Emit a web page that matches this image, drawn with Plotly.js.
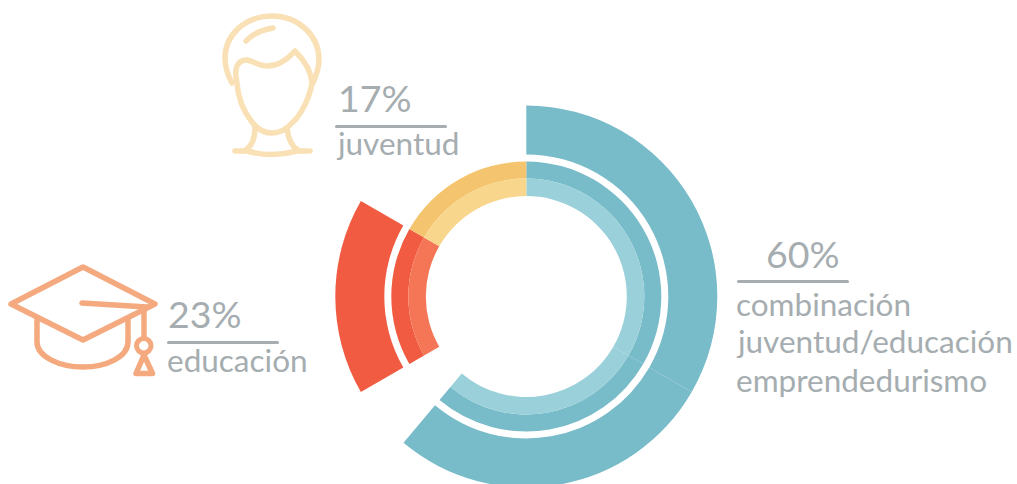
<!DOCTYPE html>
<html><head><meta charset="utf-8">
<script src="https://cdn.plot.ly/plotly-3.0.1.min.js"></script>
<style>html,body{margin:0;padding:0;background:#fff;overflow:hidden;width:1017px;height:484px}#c{width:1017px;height:490px}
.shapelayer path{stroke-linejoin:round;stroke-linecap:round}</style>
</head><body><div id="c"></div>
<script>
// Segment sizes, in degrees of the ring, clockwise from 12 o'clock
var segments = ['combinación A', 'combinación B', 'hueco', 'educación', 'juventud'];
var segmentSizes = [120, 100, 20, 60, 60];

var outerColors  = ['#78BBC9', '#78BBC9', 'rgba(0,0,0,0)', '#F15B41', 'rgba(0,0,0,0)'];
var middleColors = ['#78BBC9', '#78BBC9', 'rgba(0,0,0,0)', '#F15B41', '#F5C46E'];
var innerColors  = ['#9AD0DA', '#9AD0DA', 'rgba(0,0,0,0)', '#F47656', '#F8D68C'];

var W = 1017, H = 490, CX = 526.3, CY = 296.5;
var GREY = '#A5ADB0';

function ring(rOuter, rInner, colors) {
  return {
    type: 'pie', labels: segments, values: segmentSizes, sort: false,
    direction: 'clockwise', rotation: 0, hole: rInner / rOuter,
    marker: {colors: colors, line: {width: 0}},
    textinfo: 'none', hoverinfo: 'skip', showlegend: false,
    domain: {
      x: [(CX - rOuter) / W, (CX + rOuter) / W],
      y: [1 - (CY + rOuter) / H, 1 - (CY - rOuter) / H]
    }
  };
}
var traces = [ring(191, 142, outerColors), ring(135, 118, middleColors), ring(118, 100.5, innerColors)];

function px(d) {
  return d.replace(/(-?[\d.]+)[ ,](-?[\d.]+)/g, function (m, x, y) {
    return (parseFloat(x) / W).toFixed(5) + ' ' + (1 - parseFloat(y) / H).toFixed(5);
  });
}
function stroke(d, color, width, fill) {
  return {type: 'path', xref: 'paper', yref: 'paper', layer: 'above', path: px(d),
    line: {color: color, width: width}, fillcolor: fill || 'rgba(0,0,0,0)'};
}
function rule(x0, x1, y) {
  return stroke('M' + (x0 + 1.5) + ' ' + y + ' L' + (x1 - 1.5) + ' ' + y, GREY, 3);
}

var HEAD = '#F9E0B5', CAP = '#F4A97E';
var shapes = [
  rule(335, 447, 126.5), rule(167, 279, 342.5), rule(737, 849, 281.5),
  // head
  stroke('M232 83 C226 72 225 65 225 58 C225 35 245 16 272 16 C298 16 319 35 319 60 C319 68 316 76 313 83', HEAD, 5.5),
  stroke('M246 41 Q255 31 273 28', HEAD, 5.5),
  stroke('M237 83 C234 70 236 60 247 60 C255 62 260 66 267 66 C277 66 287 60 295 51 C304 60 311 70 312 83 C310 96 302 114 293 122 C286 130 279 133 272 133 C265 133 258 130 252 122 C244 112 238 98 237 83', HEAD, 5.5),
  stroke('M255 127 C255 137 253 145 246 150', HEAD, 5.5),
  stroke('M287 128 C288 137 291 146 298 150', HEAD, 5.5),
  stroke('M235 151 L247 151 Q272 158 297 151 L310 151', HEAD, 5.5),
  // cap
  stroke('M11 304 L83 267 L155 304 L83 340 Z', CAP, 5.5),
  stroke('M82 303 L147 307', CAP, 5.5),
  stroke('M37 320 L37 342 C37 357 60 367 83 367 C106 367 128 357 128 342 L128 320', CAP, 5.5),
  stroke('M144 308 L144 338', CAP, 5.5),
  stroke('M144 355 L136 373.5 L152.5 373.5 Z', CAP, 5.5),
  {type: 'circle', xref: 'paper', yref: 'paper', layer: 'above',
    x0: 136.5 / W, x1: 151 / W, y0: 1 - 353 / H, y1: 1 - 338.5 / H,
    line: {color: CAP, width: 5}, fillcolor: '#fff'}
];

function label(text, x, baseline, size) {
  return {text: text, xref: 'paper', yref: 'paper', x: x / W, y: 1 - baseline / H,
    xanchor: 'left', yanchor: 'bottom', showarrow: false, borderpad: 0, borderwidth: 0,
    yshift: -size * 0.30,
    font: {family: 'Lato', weight: 400, size: size, color: GREY}};
}
var annotations = [
  label('17%', 338, 109, 37.5), label('juventud', 335.5, 153, 31.5),
  label('23%', 168, 325, 37.5), label('educación', 167, 370, 31.5),
  label('60%', 766, 265, 37.5), label('combinación', 736, 314, 31.5),
  label('juventud/educación', 736, 351, 31.5), label('emprendedurismo', 736, 389.5, 31.5)
];

Plotly.newPlot('c', traces, {
  width: W, height: H, margin: {l: 0, r: 0, t: 0, b: 0, pad: 0},
  paper_bgcolor: '#fff', showlegend: false, shapes: shapes, annotations: annotations
}, {displayModeBar: false, responsive: false});
</script></body></html>
